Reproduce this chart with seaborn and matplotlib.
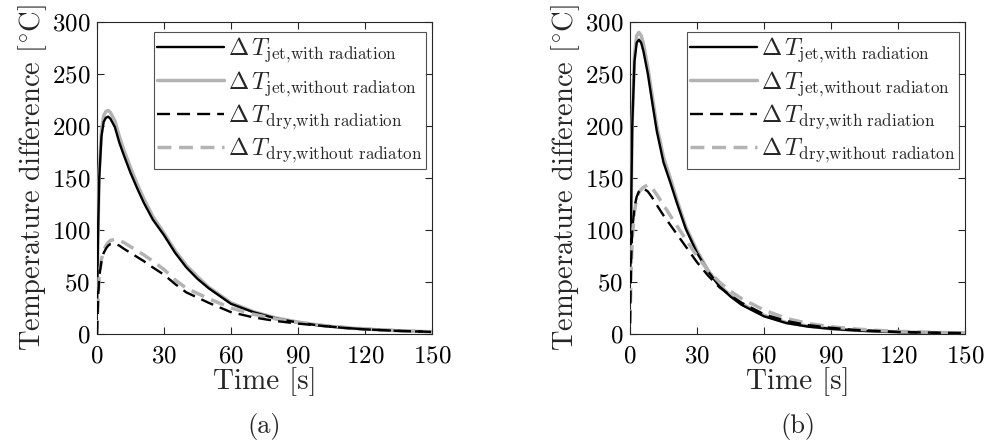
import numpy as np
import pandas as pd
import matplotlib
matplotlib.use("Agg")
import matplotlib.pyplot as plt
import seaborn as sns

# ---------------- data ----------------
time = [0, 0.5, 1, 2, 3, 4, 5, 6, 8, 10, 12, 15, 18, 21, 25, 30, 35, 40, 45, 50,
        60, 70, 80, 90, 100, 110, 120, 135, 150]

# panel (a)
a_jet_rad = [30, 100, 150, 190, 204, 208, 209, 207, 199, 184, 172, 155, 140, 126, 110, 95, 78, 64, 53, 44,
             29, 21, 15, 11, 8, 6, 4.5, 3, 2]
a_jet_norad = [30, 104, 156, 196, 210, 214, 215, 213, 205, 190, 177, 160, 144, 130, 113, 97, 80, 66, 55, 45,
               30, 21.5, 15.5, 11.5, 8.3, 6.2, 4.7, 3.1, 2.1]
a_dry_rad = [0, 35, 55, 70, 78, 82, 85, 86.5, 87, 85, 82, 78, 74, 70, 64, 57, 48, 40, 35, 30,
             21, 16, 12.5, 10, 8, 6, 4.5, 3, 2]
a_dry_norad = [0, 35, 56, 72, 80, 85, 88, 90, 91, 90, 88, 84, 80, 76, 70, 62, 52, 44, 39, 34,
               25, 19, 14.5, 11, 8.5, 6.5, 5, 3.2, 2]

# panel (b)
b_jet_rad = [50, 120, 200, 262, 280, 283, 280, 272, 250, 222, 195, 165, 146, 126, 101, 78, 60, 46, 36, 28,
             17, 10.5, 7, 5, 3.5, 2.5, 1.8, 1.2, 0.8]
b_jet_norad = [50, 122, 205, 268, 287, 290, 287, 279, 256, 228, 200, 170, 150, 129, 103, 80, 61, 47, 37, 29,
               18, 11, 7.5, 5, 3.7, 2.7, 2, 1.3, 0.9]
b_dry_rad = [10, 70, 100, 122, 132, 137, 139.5, 140, 137, 131, 124, 114, 105, 96, 84, 69, 56, 45, 37, 30,
             19, 12.5, 8.5, 6, 4, 3, 2, 1.3, 0.9]
b_dry_norad = [10, 60, 92, 118, 130, 136, 139, 141, 143.5, 140, 134, 124, 114, 104, 91, 75, 61, 50, 41, 34,
               23, 15, 10, 7, 5, 3.5, 2.5, 1.6, 1]

labels = [r"$\Delta\, T_{\mathrm{jet{,}with\ radiation}}$",
          r"$\Delta\, T_{\mathrm{jet{,}without\ radiaton}}$",
          r"$\Delta\, T_{\mathrm{dry{,}with\ radiation}}$",
          r"$\Delta\, T_{\mathrm{dry{,}without\ radiaton}}$"]
x_ticks = [0, 30, 60, 90, 120, 150]
y_ticks = [0, 50, 100, 150, 200, 250, 300]
panel_captions = ["(a)", "(b)"]

# ---------------- style ----------------
sns.set_style("ticks")
plt.rcParams["font.family"] = ["cmr10", "DejaVu Serif"]
plt.rcParams["mathtext.fontset"] = "cm"
plt.rcParams["axes.formatter.use_mathtext"] = True
plt.rcParams["axes.unicode_minus"] = False

BLACK = "#000000"
GRAY = "#b3b3b3"
styles = [
    dict(color=BLACK, lw=1.7, ls="-", z=4),
    dict(color=GRAY, lw=2.5, ls="-", z=3),
    dict(color=BLACK, lw=1.7, ls=(0, (5.5, 3)), z=6),
    dict(color=GRAY, lw=2.5, ls=(0, (4, 2.2)), z=5),
]

fig = plt.figure(figsize=(9.91, 4.47), dpi=100)
ax_a = fig.add_axes([97 / 991, 113 / 447, 335 / 991, 312 / 447])
ax_b = fig.add_axes([630 / 991, 113 / 447, 335 / 991, 312 / 447])

panels = [(ax_a, [a_jet_rad, a_jet_norad, a_dry_rad, a_dry_norad]),
          (ax_b, [b_jet_rad, b_jet_norad, b_dry_rad, b_dry_norad])]

for (ax, series), cap in zip(panels, panel_captions):
    for vals, lab, st in zip(series, labels, styles):
        df = pd.DataFrame({"t": time, "v": vals})
        sns.lineplot(data=df, x="t", y="v", ax=ax, color=st["color"], lw=st["lw"],
                     linestyle=st["ls"], label=lab, zorder=st["z"])
    ax.set_xlim(0, 150)
    ax.set_ylim(0, 300)
    ax.set_xticks(x_ticks)
    ax.set_yticks(y_ticks)
    ax.tick_params(direction="in", length=5, width=0.8, top=True, right=True,
                   labelsize=18, colors="#262626", labelcolor="black")
    ax.tick_params(axis="x", pad=8)
    ax.tick_params(axis="y", pad=5)
    for sp in ax.spines.values():
        sp.set_linewidth(0.8)
        sp.set_color("#262626")
    ax.set_xlabel("Time [s]", fontsize=21, labelpad=0)
    ax.set_ylabel(r"Temperature difference [$^{\circ}$C]", fontsize=20.5, labelpad=2)
    leg = ax.legend(loc="upper right", bbox_to_anchor=(0.982, 0.968), fontsize=17.5,
                    handlelength=2.75, handletextpad=0.15, borderpad=0.15, labelspacing=0.15,
                    borderaxespad=0.0, frameon=True, fancybox=False, edgecolor="#262626")
    leg.get_frame().set_linewidth(0.8)
    ax.text(0.5, -0.295, cap, transform=ax.transAxes, ha="center", va="center", fontsize=19)

fig.savefig("out.png", dpi=100)
